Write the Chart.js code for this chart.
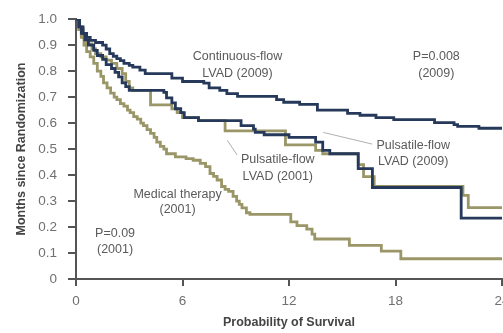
<!DOCTYPE html>
<html>
<head>
<meta charset="utf-8">
<script src="https://cdn.jsdelivr.net/npm/chart.js@4.4.1/dist/chart.umd.min.js"></script>
<style>
  html, body { margin: 0; padding: 0; background: #fff; }
  #wrap { width: 503px; height: 333px; position: relative; }
</style>
</head>
<body>
<div id="wrap"><canvas id="grafico"></canvas></div>
<script>
// Curvas de supervivencia (mes del evento, valor despues del escalon)
const mesesContinuo = [0, 0.2, 0.4, 0.6, 0.8, 1.1, 1.5, 1.7, 1.9, 2.1, 2.3, 2.5, 2.7, 3.0, 3.2, 3.6, 3.9, 5.4, 6.0, 7.2, 7.5, 8.1, 8.5, 9.1, 11.3, 11.7, 12.6, 13.6, 15.3, 16.0, 16.9, 17.9, 20.2, 21.3, 21.5, 22.7, 24];
const valoresContinuo = [1.0, 0.97, 0.945, 0.93, 0.918, 0.91, 0.9, 0.885, 0.867, 0.857, 0.848, 0.84, 0.83, 0.822, 0.815, 0.804, 0.79, 0.773, 0.76, 0.754, 0.735, 0.726, 0.713, 0.703, 0.69, 0.68, 0.672, 0.65, 0.637, 0.63, 0.621, 0.613, 0.602, 0.594, 0.587, 0.58, 0.58];

const mesesPulsatil2009 = [0, 0.15, 0.3, 0.5, 0.7, 1.0, 1.2, 1.5, 1.7, 2.0, 2.2, 2.4, 2.6, 2.8, 3.0, 4.95, 5.1, 5.4, 5.6, 5.9, 6.1, 6.9, 9.3, 10.0, 10.1, 10.6, 12.0, 13.5, 13.9, 14.3, 15.9, 16.7, 21.7, 24];
const valoresPulsatil2009 = [1.0, 0.97, 0.945, 0.92, 0.9, 0.88, 0.86, 0.845, 0.825, 0.81, 0.795, 0.778, 0.755, 0.74, 0.726, 0.718, 0.697, 0.678, 0.655, 0.64, 0.621, 0.609, 0.59, 0.577, 0.564, 0.555, 0.545, 0.527, 0.495, 0.482, 0.425, 0.352, 0.234, 0.234];

const mesesPulsatil2001 = [0, 0.2, 0.4, 0.6, 0.9, 1.1, 1.4, 1.7, 2.0, 2.3, 2.6, 2.8, 3.0, 3.2, 4.2, 5.4, 5.7, 6.0, 6.9, 8.4, 11.8, 13.5, 13.9, 15.9, 16.2, 16.8, 21.8, 22.1, 24];
const valoresPulsatil2001 = [1.0, 0.96, 0.93, 0.905, 0.885, 0.867, 0.855, 0.842, 0.83, 0.81, 0.79, 0.76, 0.735, 0.726, 0.67, 0.655, 0.64, 0.621, 0.609, 0.57, 0.516, 0.495, 0.482, 0.44, 0.394, 0.356, 0.322, 0.275, 0.275];

const mesesMedico = [0, 0.15, 0.3, 0.45, 0.6, 0.8, 1.0, 1.2, 1.4, 1.55, 1.75, 1.95, 2.15, 2.3, 2.5, 2.7, 2.9, 3.05, 3.25, 3.45, 3.65, 3.8, 4.0, 4.2, 4.4, 4.55, 4.75, 4.95, 5.1, 5.6, 6.2, 6.6, 7.0, 7.3, 7.55, 7.75, 7.95, 8.2, 8.4, 8.6, 8.85, 9.05, 9.2, 9.35, 9.6, 9.8, 12.1, 12.45, 13.0, 13.3, 13.45, 15.4, 17.2, 18.3, 24];
const valoresMedico = [1.0, 0.96, 0.93, 0.9, 0.875, 0.855, 0.83, 0.8, 0.78, 0.755, 0.735, 0.715, 0.7, 0.69, 0.675, 0.665, 0.65, 0.64, 0.625, 0.615, 0.6, 0.59, 0.575, 0.56, 0.545, 0.527, 0.51, 0.5, 0.482, 0.47, 0.463, 0.457, 0.445, 0.432, 0.406, 0.395, 0.381, 0.356, 0.345, 0.337, 0.318, 0.3, 0.287, 0.274, 0.255, 0.249, 0.22, 0.205, 0.192, 0.173, 0.154, 0.129, 0.107, 0.078, 0.078];

const ticksX = [0, 6, 12, 18, 24];

// Textos sobre el grafico: [texto, mes, valor]
const textos = [
  ["Continuous-flow", 9.1, 0.856], ["LVAD (2009)", 9.1, 0.792],
  ["P=0.008", 20.3, 0.856], ["(2009)", 20.3, 0.792],
  ["Pulsatile-flow", 19.0, 0.515], ["LVAD (2009)", 19.0, 0.451],
  ["Pulsatile-flow", 11.37, 0.458], ["LVAD (2001)", 11.37, 0.394],
  ["Medical therapy", 5.72, 0.326], ["(2001)", 5.72, 0.269],
  ["P=0.09", 2.2, 0.174], ["(2001)", 2.2, 0.114]
];
// Lineas guia: [mes1, valor1, mes2, valor2]
const guias = [
  [13.93, 0.564, 16.69, 0.519],
  [8.52, 0.534, 9.08, 0.477]
];

const azul = "#26395a";
const oliva = "#9a9668";

function puntos(meses, valores) {
  return meses.map((m, i) => ({ x: m, y: valores[i] }));
}

const pluginTextos = {
  id: "textos",
  afterDatasetsDraw(chart) {
    const ctx = chart.ctx;
    const sx = chart.scales.x;
    const sy = chart.scales.y;
    ctx.save();
    ctx.strokeStyle = "#b0b0b0";
    ctx.lineWidth = 1;
    guias.forEach((g) => {
      ctx.beginPath();
      ctx.moveTo(sx.getPixelForValue(g[0]), sy.getPixelForValue(g[1]));
      ctx.lineTo(sx.getPixelForValue(g[2]), sy.getPixelForValue(g[3]));
      ctx.stroke();
    });
    ctx.fillStyle = "#5a5a5a";
    ctx.font = "12.5px 'Liberation Sans', Arial, sans-serif";
    ctx.textAlign = "center";
    ctx.textBaseline = "middle";
    textos.forEach((t) => {
      ctx.fillText(t[0], sx.getPixelForValue(t[1]), sy.getPixelForValue(t[2]));
    });
    ctx.restore();
  },
};

const serie = (label, meses, valores, color) => ({
  label: label,
  data: puntos(meses, valores),
  borderColor: color,
  borderWidth: 2.8,
  pointRadius: 0,
  stepped: "before",
  fill: false,
});

new Chart(document.getElementById("grafico"), {
  type: "line",
  data: {
    datasets: [
      serie("Continuous-flow LVAD (2009)", mesesContinuo, valoresContinuo, azul),
      serie("Pulsatile-flow LVAD (2009)", mesesPulsatil2009, valoresPulsatil2009, azul),
      serie("Pulsatile-flow LVAD (2001)", mesesPulsatil2001, valoresPulsatil2001, oliva),
      serie("Medical therapy (2001)", mesesMedico, valoresMedico, oliva),
    ],
  },
  options: {
    responsive: true,
    maintainAspectRatio: false,
    animation: false,
    layout: { padding: { top: 15, right: 1, left: 0, bottom: 0 } },
    plugins: { legend: { display: false }, tooltip: { enabled: false } },
    scales: {
      x: {
        type: "linear",
        min: 0,
        max: 24,
        afterBuildTicks: (scale) => {
          scale.ticks = ticksX.map((v) => ({ value: v }));
        },
        afterFit: (scale) => {
          scale.height = 54;
          scale.paddingLeft = 0;
          scale.paddingRight = 0;
        },
        ticks: {
          color: "#707070",
          font: { size: 13.5, family: "'Liberation Sans', Arial, sans-serif" },
          padding: 7,
          maxRotation: 0,
        },
        grid: {
          drawOnChartArea: false,
          drawTicks: true,
          tickLength: 7,
          color: "#555",
          lineWidth: 2,
        },
        border: { display: true, color: "#555", width: 2 },
        title: {
          display: true,
          text: "Probability of Survival",
          color: "#444",
          font: { size: 12.5, weight: "bold", family: "'Liberation Sans', Arial, sans-serif" },
          padding: { top: 0, bottom: 3 },
        },
      },
      y: {
        min: 0,
        max: 1,
        afterFit: (scale) => {
          scale.width = 76;
        },
        ticks: {
          stepSize: 0.1,
          color: "#707070",
          font: { size: 13.5, family: "'Liberation Sans', Arial, sans-serif" },
          padding: 11,
          callback: (v) => (v === 0 ? "0" : v.toFixed(1)),
        },
        grid: {
          drawOnChartArea: false,
          drawTicks: true,
          tickLength: 8,
          color: "#555",
          lineWidth: 2,
        },
        border: { display: true, color: "#555", width: 2 },
        title: {
          display: true,
          text: "Months since Randomization",
          color: "#444",
          font: { size: 12.5, weight: "bold", family: "'Liberation Sans', Arial, sans-serif" },
          padding: { top: 14, bottom: 0 },
        },
      },
    },
  },
  plugins: [pluginTextos],
});
</script>
</body>
</html>
